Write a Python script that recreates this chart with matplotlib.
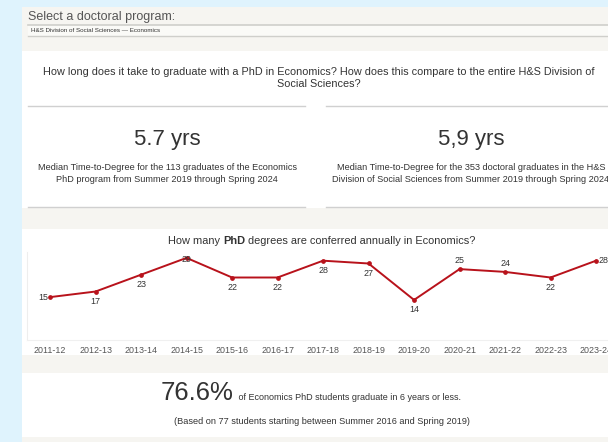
import numpy as np
import matplotlib
matplotlib.use("Agg")
import matplotlib.pyplot as plt
from matplotlib.patches import Rectangle, Polygon

plt.rcParams['font.family'] = ['Liberation Sans', 'DejaVu Sans']

# data
years = ["2011-12", "2012-13", "2013-14", "2014-15", "2015-16", "2016-17", "2017-18",
         "2018-19", "2019-20", "2020-21", "2021-22", "2022-23", "2023-24"]
degrees = [15, 17, 23, 29, 22, 22, 28, 27, 14, 25, 24, 22, 28]

program = "H&S Division of Social Sciences \u2014 Economics"
median_prog = "5.7 yrs"
median_div = "5,9 yrs"
grads_prog = 113
grads_div = 353
pct_six = "76.6%"
n_students = 77

W, H = 608, 442
BEIGE = "#f6f5f1"
LBLUE = "#dff3fd"
TXT = "#333333"
GREY = "#555555"


def fx(x):
    return x / W


def fy(y):
    return 1 - y / H


def box(fig, x0, y0, x1, y1, color, **kw):
    fig.patches.append(Rectangle((fx(x0), fy(y1)), fx(x1) - fx(x0), fy(y0) - fy(y1),
                                 transform=fig.transFigure, facecolor=color,
                                 edgecolor=kw.pop("edgecolor", "none"), **kw))


def hline(fig, x0, x1, y, color="#d0d0d0", lw=1.0):
    fig.add_artist(plt.Line2D([fx(x0), fx(x1)], [fy(y), fy(y)], color=color, lw=lw,
                              transform=fig.transFigure))


fig = plt.figure(figsize=(W / 100, H / 100), dpi=100)
fig.patch.set_facecolor("white")

# page background pieces
box(fig, 0, 0, 22, H, LBLUE)
box(fig, 0, 0, W, 7, LBLUE)
grad = fig.add_axes([fx(200), fy(7), fx(130), 7 / H])
grad.imshow(np.linspace(0, 1, 200)[None, :], aspect="auto",
            cmap=matplotlib.colors.LinearSegmentedColormap.from_list("b", [LBLUE, "#5ab8f5", "#1e9cf0"]),
            extent=[0, 1, 0, 1])
clip = Polygon([[0, 0], [0.86, 0], [1, 1], [0, 1]], transform=grad.transAxes)
grad.images[0].set_clip_path(clip)
grad.axis("off")

box(fig, 22, 7, W, 51, BEIGE)
box(fig, 28, 25, W, 36, "#fafaf7")
hline(fig, 28, W, 25, "#cfcfcb", 1.2)
hline(fig, 28, W, 36, "#cfcfcb", 1.0)
box(fig, 22, 208, W, 229, BEIGE)
box(fig, 22, 355, W, 373, BEIGE)
box(fig, 22, 437, W, H, BEIGE)

fig.text(fx(28), fy(17), "Select a doctoral program:", fontsize=9, color=GREY, va="center")
fig.text(fx(31), fy(30.5), program, fontsize=4.5, color=TXT, va="center")

# question
fig.text(fx(319), fy(72), "How long does it take to graduate with a PhD in Economics? How does this "
         "compare to the entire H&S Division of", fontsize=7.8, color=TXT, ha="center", va="center")
fig.text(fx(319), fy(84), "Social Sciences?", fontsize=7.8, color=TXT, ha="center", va="center")

# cards
hline(fig, 28, 305, 106)
hline(fig, 326, W, 106)
hline(fig, 28, 305, 207)
hline(fig, 326, W, 207)
fig.text(fx(167), fy(139), median_prog, fontsize=16, color=TXT, ha="center", va="center")
fig.text(fx(167), fy(168), "Median Time-to-Degree for the %d graduates of the Economics" % grads_prog,
         fontsize=6.6, color=TXT, ha="center", va="center")
fig.text(fx(167), fy(180), "PhD program from Summer 2019 through Spring 2024",
         fontsize=6.6, color=TXT, ha="center", va="center")
fig.text(fx(471), fy(139), median_div, fontsize=16, color=TXT, ha="center", va="center")
fig.text(fx(471), fy(168), "Median Time-to-Degree for the %d doctoral graduates in the H&S" % grads_div,
         fontsize=6.6, color=TXT, ha="center", va="center")
fig.text(fx(471), fy(180), "Division of Social Sciences from Summer 2019 through Spring 2024",
         fontsize=6.6, color=TXT, ha="center", va="center")

# line chart
ax = fig.add_axes([fx(27.3), fy(340), 13 * 45.5 / W, 88 / H])
x = np.arange(len(years))
ax.plot(x, degrees, color="#b8121b", lw=1.4, marker="o", ms=2.4, zorder=3)
ax.set_xlim(-0.5, 12.5)
ax.set_ylim(-0.3, 31.1)
ax.set_yticks([])
ax.set_xticks(x)
ax.set_xticklabels(years, fontsize=6.4, color=GREY)
ax.tick_params(axis="x", length=0, pad=4)
for s in ["top", "right"]:
    ax.spines[s].set_visible(False)
ax.spines["left"].set_color("#eeeeee")
ax.spines["bottom"].set_color("#f0f0f0")
ax.patch.set_alpha(0)

label_offsets = [(-1, 0, "right", "center"), (0, -4, "center", "top"), (0, -4, "center", "top"),
                 (0, -1, "center", "center"), (0, -4, "center", "top"), (0, -4, "center", "top"),
                 (0, -4, "center", "top"), (0, -4, "center", "top"), (0, -4, "center", "top"),
                 (0, 3, "center", "bottom"), (0, 3, "center", "bottom"), (0, -4, "center", "top"),
                 (1.5, 0, "left", "center")]
for xi, v, (dx, dy, ha, va) in zip(x, degrees, label_offsets):
    ax.annotate(str(v), (xi, v), xytext=(dx, dy), textcoords="offset points",
                ha=ha, va=va, fontsize=6.4, color=TXT)

# chart title with bold PhD
fig.canvas.draw()
r = fig.canvas.get_renderer()
parts = [("How many ", "normal"), ("PhD", "bold"), (" degrees are conferred annually in Economics?", "normal")]
ts = [fig.text(0, fy(241), p, fontsize=7.9, fontweight=w, color=TXT, va="center") for p, w in parts]
widths = [t.get_window_extent(r).width for t in ts]
xs = 322 - sum(widths) / 2
for t, wd in zip(ts, widths):
    t.set_x(fx(xs))
    xs += wd

# bottom stat
big = fig.text(0, fy(400), pct_six, fontsize=18.5, color=TXT, va="baseline")
small = fig.text(0, fy(400), " of Economics PhD students graduate in 6 years or less.",
                 fontsize=6.5, color=TXT, va="baseline")
wb = big.get_window_extent(r).width
ws = small.get_window_extent(r).width
x0 = 310 - (wb + ws) / 2
big.set_x(fx(x0))
small.set_x(fx(x0 + wb + 2))
fig.text(fx(322), fy(421), "(Based on %d students starting between Summer 2016 and Spring 2019)" % n_students,
         fontsize=6.6, color=TXT, ha="center", va="center")

fig.savefig("out.png", dpi=100)
